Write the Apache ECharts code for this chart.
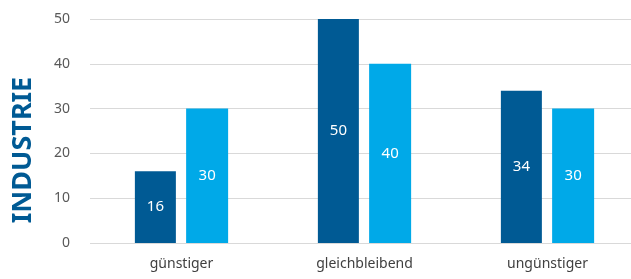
<!DOCTYPE html>
<html>
<head>
<meta charset="utf-8">
<script src="https://cdn.jsdelivr.net/npm/echarts@6/dist/echarts.min.js"></script>
<style>
html,body{margin:0;padding:0;background:#fff;}
#chart{width:631px;height:279px;}
</style>
</head>
<body>
<div id="chart"></div>
<script>
var categories = ['günstiger', 'gleichbleibend', 'ungünstiger'];
var seriesA = [16, 50, 34];
var seriesB = [30, 40, 30];
var yTicks = [0, 10, 20, 30, 40, 50];

var myChart = echarts.init(document.getElementById('chart'));
var font = 'Noto Sans';
myChart.setOption({
	animation: false,
	grid: {left: 90, width: 549, top: 19, bottom: 36, outerBoundsMode: 'none', containLabel: false},
	graphic: [{
		type: 'text',
		x: 23, y: 150,
		rotation: Math.PI / 2,
		style: {
			text: 'INDUSTRIE',
			font: 'bold 27px "Noto Sans"',
			fill: '#005A94',
			align: 'center',
			verticalAlign: 'middle'
		}
	}],
	xAxis: {
		type: 'category',
		data: categories,
		axisLine: {show: false},
		axisTick: {show: false},
		axisLabel: {color: '#404040', fontSize: 14, fontFamily: font, margin: 14}
	},
	yAxis: {
		type: 'value',
		min: yTicks[0],
		max: yTicks[yTicks.length - 1],
		interval: 10,
		axisLine: {show: false},
		axisTick: {show: false},
		axisLabel: {color: '#595959', fontSize: 14, fontFamily: font, margin: 20},
		splitLine: {lineStyle: {color: '#d9d9d9', width: 1}}
	},
	series: [{
		type: 'bar',
		data: seriesA,
		barWidth: 41,
		barGap: '25%',
		itemStyle: {color: '#005A94'},
		label: {show: true, position: 'inside', color: '#fff', fontSize: 15, fontFamily: font}
	}, {
		type: 'bar',
		data: seriesB,
		barWidth: 42,
		itemStyle: {color: '#00A9E8'},
		label: {show: true, position: 'inside', color: '#fff', fontSize: 15, fontFamily: font}
	}]
});
</script>
</body>
</html>
